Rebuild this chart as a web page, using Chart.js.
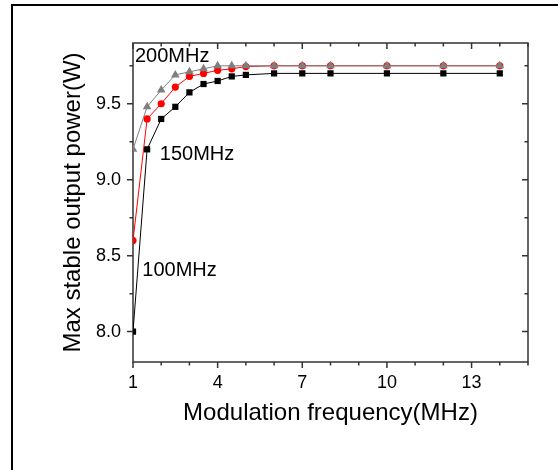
<!DOCTYPE html>
<html>
<head>
<meta charset="utf-8">
<script src="https://cdn.jsdelivr.net/npm/chart.js@4.4.1/dist/chart.umd.min.js"></script>
<style>
  html, body { margin: 0; padding: 0; background: #fff; overflow: hidden; }
  #wrap { position: relative; width: 558px; height: 470px; }
  #frame { position: absolute; left: 11px; top: 4px; width: 700px; height: 700px;
           border-top: 2px solid #000; border-left: 2px solid #000; pointer-events: none; }
</style>
</head>
<body>
<div id="wrap">
  <canvas id="chart" width="558" height="470"></canvas>
  <div id="frame"></div>
</div>
<script>
// values
var freq = [1, 1.5, 2, 2.5, 3, 3.5, 4, 4.5, 5, 6, 7, 8, 10, 12, 14];
var power100 = [8.0, 9.2, 9.4, 9.48, 9.575, 9.63, 9.65, 9.68, 9.69, 9.70, 9.70, 9.70, 9.70, 9.70, 9.70];
var power150 = [8.6, 9.4, 9.5, 9.61, 9.68, 9.70, 9.72, 9.73, 9.745, 9.75, 9.75, 9.75, 9.75, 9.75, 9.75];
var power200 = [9.2, 9.48, 9.59, 9.69, 9.71, 9.73, 9.75, 9.75, 9.75, 9.75, 9.75, 9.75, 9.75, 9.75, 9.75];

var xTicks = [1, 4, 7, 10, 13];
var yTicks = [8.0, 8.5, 9.0, 9.5];

// curve labels (text, x, y in data units)
var labelText = ["200MHz", "150MHz", "100MHz"];
var labelX = [1.07, 1.95, 1.33];
var labelY = [9.774, 9.131, 8.369];

var FONT = "'Liberation Sans', Arial, sans-serif";
var AXIS = "#333";

function pairs(ys) {
    return freq.map(function (f, i) { return { x: f, y: ys[i] }; });
}

// draws the box, the inward/outward ticks and the curve labels
var frameTicks = {
    id: "frameTicks",
    beforeDatasetsDraw: function (chart) {
        var ctx = chart.ctx, a = chart.chartArea;
        var x = chart.scales.x, y = chart.scales.y;
        ctx.save();
        ctx.strokeStyle = AXIS;
        ctx.lineWidth = 1.5;
        ctx.strokeRect(a.left, a.top, a.right - a.left, a.bottom - a.top);
        ctx.beginPath();
        for (var v = 1; v <= 15; v++) {
            var px = x.getPixelForValue(v);
            var len = xTicks.indexOf(v) >= 0 ? 6 : 3.5;
            ctx.moveTo(px, a.bottom); ctx.lineTo(px, a.bottom + len);
            ctx.moveTo(px, a.top); ctx.lineTo(px, a.top + len);
        }
        for (var k = 32; k <= 39; k++) {
            var val = k / 4;
            var py = y.getPixelForValue(val);
            var l = (k % 2 === 0) ? 6 : 3.5;
            ctx.moveTo(a.left, py); ctx.lineTo(a.left - l, py);
            ctx.moveTo(a.right, py); ctx.lineTo(a.right - l, py);
        }
        ctx.stroke();
        ctx.restore();
    },
    afterDatasetsDraw: function (chart) {
        var ctx = chart.ctx;
        var x = chart.scales.x, y = chart.scales.y;
        ctx.save();
        ctx.fillStyle = "#000";
        ctx.font = "20px " + FONT;
        ctx.textAlign = "left";
        ctx.textBaseline = "alphabetic";
        labelText.forEach(function (t, i) {
            ctx.fillText(t, x.getPixelForValue(labelX[i]), y.getPixelForValue(labelY[i]));
        });
        ctx.restore();
    }
};

var ctx = document.getElementById("chart").getContext("2d");
var chart = new Chart(ctx, {
    type: "line",
    data: {
        datasets: [
            {
                label: "200MHz",
                data: pairs(power200),
                borderColor: "#7f7f7f",
                backgroundColor: "#7f7f7f",
                borderWidth: 1,
                pointStyle: "triangle",
                pointRadius: 5,
                pointBorderWidth: 0,
                order: 0
            },
            {
                label: "150MHz",
                data: pairs(power150),
                borderColor: "#ff0000",
                backgroundColor: "#ff0000",
                borderWidth: 1,
                pointStyle: "circle",
                pointRadius: 3.6,
                pointBorderWidth: 0,
                order: 1
            },
            {
                label: "100MHz",
                data: pairs(power100),
                borderColor: "#000",
                backgroundColor: "#000",
                borderWidth: 1,
                pointStyle: "rect",
                pointRadius: 4.4,
                pointBorderWidth: 0,
                order: 2
            }
        ]
    },
    options: {
        responsive: false,
        animation: false,
        events: [],
        layout: { padding: { top: 43, right: 30, left: 0, bottom: 0 } },
        plugins: { legend: { display: false }, tooltip: { enabled: false } },
        scales: {
            x: {
                type: "linear",
                min: 1,
                max: 15,
                grid: { display: false, drawTicks: false },
                border: { display: false },
                afterBuildTicks: function (s) { s.ticks = xTicks.map(function (v) { return { value: v }; }); },
                afterFit: function (s) { s.height = 108; },
                ticks: {
                    color: "#000",
                    font: { family: FONT, size: 18 },
                    padding: 10,
                    maxRotation: 0,
                    callback: function (v) { return String(v); }
                },
                title: {
                    display: true,
                    text: "Modulation frequency(MHz)",
                    color: "#000",
                    font: { family: FONT, size: 24 },
                    padding: { top: 42, bottom: 42 }
                }
            },
            y: {
                min: 7.8,
                max: 9.9,
                grid: { display: false, drawTicks: false },
                border: { display: false },
                afterBuildTicks: function (s) { s.ticks = yTicks.map(function (v) { return { value: v }; }); },
                afterFit: function (s) { s.width = 133; },
                ticks: {
                    color: "#000",
                    font: { family: FONT, size: 18 },
                    padding: 12,
                    callback: function (v) { return Number(v).toFixed(1); }
                },
                title: {
                    display: true,
                    text: "Max stable output power(W)",
                    color: "#000",
                    font: { family: FONT, size: 24 },
                    padding: { top: 59, bottom: 59 }
                }
            }
        }
    },
    plugins: [frameTicks]
});
</script>
</body>
</html>
